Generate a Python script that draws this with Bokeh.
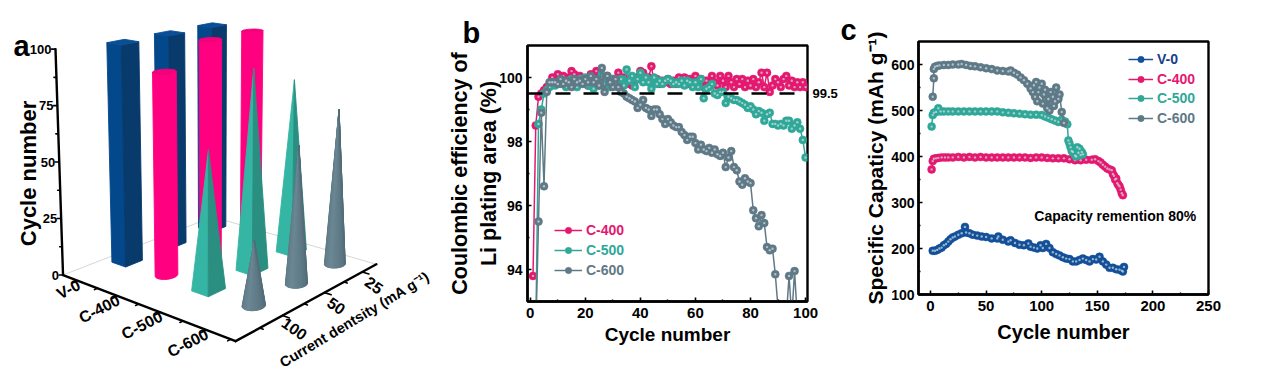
import numpy as np
from bokeh.core.properties import value
from bokeh.embed import file_html
from bokeh.layouts import row
from bokeh.models import FixedTicker, Legend, LegendItem, LinearAxis, Label, Range1d, Span, Title
from bokeh.plotting import figure
from bokeh.resources import INLINE

FONT = "Liberation Sans"
BLUE, PINK, TEAL, GREY = "#10488c", "#e5186f", "#2fa898", "#5f7986"

# ---------- panel a data ----------
samples_a = ["V-0", "C-400", "C-500", "C-600"]
densities_a = ["100", "50", "25"]
heights_v0 = [100, 100, 100]
heights_c400 = [90, 100, 100]
heights_c500 = [60, 90, 80]
heights_c600 = [27, 60, 70]

# ---------- panel b data ----------
ce_cycles = list(range(1, 101))
ce_c400 = [93.8, 98.5, 99.4, 99.5, 99.6, 99.7, 99.75, 100.0, 99.85, 100.1,
           99.95, 100.05, 99.9, 100.0, 100.2, 100.1, 99.9, 100.05, 99.85, 99.95,
           99.75, 100.1, 100.0, 100.2, 99.9, 100.0, 99.75, 100.05, 99.85, 99.95,
           99.8, 100.15, 99.9, 100.0, 99.8, 99.9, 99.75, 99.9, 100.0, 100.2,
           100.15, 99.9, 100.0, 100.35, 99.85, 99.95, 99.8, 99.9, 99.85, 99.95,
           99.8, 99.9, 99.8, 100.0, 99.85, 100.0, 99.8, 99.95, 99.8, 100.05,
           99.85, 99.95, 99.7, 99.9, 99.75, 100.05, 99.85, 99.75, 100.05, 99.9,
           99.7, 100.05, 99.85, 99.7, 99.95, 99.8, 99.95, 99.7, 99.9, 99.75,
           99.95, 99.7, 99.85, 100.15, 99.7, 100.15, 99.55, 99.75, 99.95, 99.85,
           99.7, 99.95, 100.05, 99.75, 99.9, 99.7, 99.85, 99.7, 99.85, 99.7]
ce_c500 = [92.0, 92.0, 98.55, 99.0, 99.5, 99.6, 99.7, 99.8, 99.75, 99.85,
           99.8, 99.9, 99.7, 99.85, 99.95, 99.9, 99.7, 99.95, 99.85, 100.0,
           99.75, 99.85, 99.65, 99.9, 99.75, 100.1, 99.8, 99.9, 99.7, 99.95,
           99.85, 99.7, 99.95, 99.75, 100.25, 99.9, 100.05, 99.7, 99.95, 100.15,
           99.85, 100.0, 99.85, 99.65, 100.0, 99.8, 99.9, 99.8, 99.9, 99.95,
           99.9, 99.8, 99.85, 99.8, 99.9, 99.75, 99.9, 99.85, 99.7, 99.85,
           99.7, 99.95, 99.35, 99.65, 99.7, 99.8, 99.5, 99.45, 99.55, 99.55,
           99.2, 99.4, 99.35, 99.3, 99.3, 99.25, 99.2, 99.15, 99.05, 99.1,
           99.0, 98.85, 98.95, 98.9, 98.65, 98.85, 98.9, 98.55, 98.55, 98.5,
           98.55, 98.5, 98.65, 98.65, 98.4, 98.5, 98.6, 98.4, 98.05, 97.5]
ce_c600 = [92.0, 92.0, 95.5, 98.9, 96.6, 99.55, 99.85, 99.85, 99.85, 99.8,
           99.95, 99.8, 99.9, 99.85, 99.7, 99.95, 99.85, 99.9, 99.8, 99.95,
           99.85, 100.05, 99.85, 99.95, 99.75, 100.3, 99.55, 100.05, 99.85, 99.7,
           99.95, 99.7, 99.55, 99.5, 99.4, 99.35, 99.3, 99.25, 99.05, 99.15,
           99.3, 99.05, 99.0, 98.8, 99.0, 99.0, 98.85, 98.7, 98.55, 98.7,
           98.6, 98.5, 98.45, 98.45, 98.3, 98.2, 98.05, 98.15, 98.15, 97.95,
           97.75, 97.9, 97.75, 97.7, 97.8, 97.65, 97.75, 97.6, 97.55, 97.65,
           97.2, 97.5, 97.7, 97.2, 97.1, 96.75, 96.65, 96.85, 96.75, 96.7,
           95.85, 95.6, 95.35, 95.7, 95.45, 94.7, 94.6, 94.65, 93.85, 92.8,
           92.6, 92.5, 92.5, 93.8, 92.5, 93.95, 92.5]
ce_target = 99.5
ce_xticks = [0, 20, 40, 60, 80, 100]
ce_yticks = [94, 96, 98, 100]

# ---------- panel c data ----------
v0_x = [2, 4, 6, 8, 10, 12, 14, 16, 18, 20, 22, 25, 28, 31, 32, 35, 38, 42, 46, 50, 55, 60, 61, 65, 70, 72, 76, 80, 84, 88,
        90, 93, 96, 99, 101, 104, 107, 110, 113, 116, 119, 122, 125, 128, 131, 134, 137, 140, 143, 146, 149, 152, 155, 158, 161, 164, 167, 170, 172, 173, 174]
v0_y = [195, 195, 197, 200, 202, 207, 210, 215, 220, 224, 226, 230, 233, 247, 235, 233, 230, 228, 226, 225, 222, 222, 226, 219, 215, 218, 212, 208, 207, 211,
        204, 202, 200, 207, 201, 210, 201, 192, 188, 185, 181, 178, 177, 172, 172, 175, 178, 175, 172, 177, 176, 182, 172, 165, 158, 158, 155, 154, 152, 150, 160]
c400_x = [1, 2, 3, 5, 7, 10, 13, 16, 20, 25, 30, 35, 40, 45, 50, 55, 60, 65, 70, 75, 80, 85, 90, 95, 100, 105, 110, 115, 120, 125, 130, 135, 140, 145, 148, 151, 153, 155, 157, 159, 161, 163, 164, 165, 166, 167, 168, 169, 170, 171, 172, 173]
c400_y = [372, 390, 395, 396, 397, 398, 398, 398, 398, 399, 398, 399, 398, 399, 398, 398, 398, 398, 398, 398, 398, 398, 397, 398, 398, 397, 396, 396, 396, 394, 392, 392, 393, 393, 394, 390, 387, 382, 378, 374, 372, 370, 362, 358, 350, 352, 342, 338, 335, 328, 320, 316]
c500_x = [1, 2, 3, 5, 7, 9, 12, 16, 20, 25, 30, 35, 40, 45, 50, 55, 60, 65, 70, 75, 80, 85, 90, 95, 100, 103, 106, 109, 112, 115, 118, 121, 123, 124, 125, 126, 127, 128, 130, 131, 132, 133, 134, 135, 136, 137]
c500_y = [465, 490, 495, 497, 505, 498, 498, 498, 498, 498, 498, 498, 498, 498, 498, 498, 498, 496, 495, 494, 493, 492, 491, 491, 490, 487, 484, 481, 478, 475, 480, 476, 470, 435, 428, 420, 412, 410, 402, 400, 420, 408, 417, 403, 410, 405]
c600_x = [2, 3, 3, 4, 6, 8, 12, 16, 20, 25, 28, 32, 36, 40, 45, 50, 55, 60, 65, 70, 72, 75, 78, 81, 84, 87, 90, 92, 93, 94, 95, 96, 97, 98, 100, 101, 102, 103, 105, 106, 107, 108, 110, 111, 112, 113, 115, 116, 118, 120]
c600_y = [530, 570, 590, 595, 597, 598, 599, 599, 600, 600, 601, 599, 597, 596, 594, 592, 590, 587, 586, 585, 587, 582, 578, 572, 566, 558, 548, 540, 555, 530, 562, 520, 540, 550, 558, 515, 535, 545, 505, 525, 500, 540, 530, 510, 520, 550, 525, 535, 497, 473]
cap_xticks = [0, 50, 100, 150, 200, 250]
cap_yticks = [100, 200, 300, 400, 500, 600]

# ---------- panel a: perspective helpers ----------
GRID = [((0, 0), (126.7, 260.7)), ((3, 0), (253.3, 305)), ((3, 2), (334.3, 263.3)), ((0, 2), (211.7, 226.7))]
A_, b_ = [], []
for (u, v), (X, Y) in GRID:
    A_.append([u, v, 1, 0, 0, 0, -u * X, -v * X]); b_.append(X)
    A_.append([0, 0, 0, u, v, 1, -u * Y, -v * Y]); b_.append(Y)
H = np.linalg.solve(np.array(A_, float), np.array(b_, float))


def project(u, v, z=0.0):
    w = H[6] * u + H[7] * v + 1
    x = (H[0] * u + H[1] * v + H[2]) / w
    y = (H[3] * u + H[4] * v + H[5]) / w
    s = (6.57 + 0.005 * (3 * (y - 10) - 752)) / 3
    return x + (x - 213.3) * 0.05 * z / 100, y - s * z


pa = figure(width=440, height=373, x_range=Range1d(0, 440), y_range=Range1d(373, 0),
            output_backend="svg", toolbar_location=None, min_border=0, frame_align=False,
            x_axis_type=None, y_axis_type=None, outline_line_color=None)
pa.grid.visible = False

xs, ys, cols = [], [], []


def poly(points, color):
    xs.append([q[0] for q in points])
    ys.append([q[1] for q in points])
    cols.append(color)


def column(u, v, z, half=0.18):
    L = (u - half, v - half); F = (u + half, v - half); R = (u + half, v + half); B = (u - half, v + half)
    poly([project(*L), project(*F), project(*F, z), project(*L, z)], "#04488c")
    poly([project(*F), project(*R), project(*R, z), project(*F, z)], "#083a6c")
    poly([project(*L, z), project(*F, z), project(*R, z), project(*B, z)], "#0a4f96")


def ring(u, v, z, r, t0=225, t1=405, n=24):
    ts = np.radians(np.linspace(t0, t1, n))
    return [project(u + r * np.cos(t), v + r * np.sin(t), z) for t in ts]


def cylinder(u, v, z, r=0.185):
    poly(ring(u, v, 0, r) + ring(u, v, z, r)[::-1], "#ff0080")
    poly(ring(u, v, z, r, 0, 360, 36), "#f5007a")


def pyramid(u, v, z, half=0.19):
    apex = project(u, v, z)
    L = (u - half, v - half); F = (u + half, v - half); R = (u + half, v + half)
    poly([project(*L), project(*F), apex], "#35b5a3")
    poly([project(*F), project(*R), apex], "#2a8e80")


def cone(u, v, z, r=0.18):
    apex = project(u, v, z)
    edge = ring(u, v, 0, r, 225, 405, 17)
    poly(edge + [apex], "#607b88")
    for i in range(16):
        f = abs(i - 5) / 11
        c = tuple(int(a + (b - a) * f) for a, b in zip((108, 136, 148), (80, 106, 118)))
        poly([edge[i], edge[i + 1], apex], "#%02x%02x%02x" % c)


draw = []
for i, hs in enumerate([heights_v0, heights_c400, heights_c500, heights_c600]):
    shape = [column, cylinder, pyramid, cone][i]
    for j, h in enumerate(hs):
        draw.append((project(i, j)[1], shape, i, j, h))
for _, shape, i, j, h in sorted(draw, key=lambda d: d[0]):
    shape(i, j, h)

ULO, UHI, VLO, VHI = -0.4, 3.6, -1.0, 2.4


def seg(p1, p2, color, width):
    pa.line([p1[0], p2[0]], [p1[1], p2[1]], line_color=color, line_width=width, line_cap="round")


seg(project(ULO, VLO), project(ULO, VHI), "#d6d6d6", 1)
seg(project(ULO, VHI), project(UHI, VHI), "#d6d6d6", 1)
pa.patches(xs, ys, fill_color=cols, line_color=cols, line_width=0.9)
seg(project(ULO, VLO), project(ULO, VLO, 100), "black", 2.4)
seg(project(ULO, VLO), project(UHI, VLO), "black", 2.4)
seg(project(UHI, VLO), project(UHI, VHI), "black", 2.4)
for z in np.arange(0, 101, 12.5):
    px, py = project(ULO, VLO, z)
    seg((px, py), (px - (4 if z % 25 == 0 else 2.5), py), "black", 1.6)
for u in np.arange(0, 3.6, 0.5):
    l = 0.11 if float(u).is_integer() else 0.06
    seg(project(u, VLO), project(u, VLO - l), "black", 1.6)
for v in np.arange(-0.5, 2.4, 0.5):
    l = 0.14 if float(v).is_integer() else 0.07
    seg(project(UHI, v), project(UHI + l, v), "black", 1.6)


def txt(x, y, s, size, angle=0, align="center", base="middle", style="bold", color="black"):
    pa.text([x], [y], text=[s], text_font=value(FONT), text_font_size=size, text_font_style=style,
            text_color=color, text_align=align, text_baseline=base, angle=angle, angle_units="deg")


txt(13, 45, "a", "29px", align="left", base="alphabetic")
for z in [0, 25, 50, 75, 100]:
    px, py = project(ULO, VLO, z)
    txt(px - 4, py, str(z), "13px", align="right")
for i, s in enumerate(samples_a):
    px, py = project(i, VLO)
    txt(px + 1, py + 3, s, "16px", angle=27, align="right")
for j, s in enumerate(densities_a):
    px, py = project(UHI, j)
    txt(px + 12, py + 13, s, "16px", angle=-35)
txt(28, 173, "Cycle number", "22px", angle=90)
txt(354, 319, "Current dentsity (mA g\u207b\u00b9)", "14.5px", angle=31)


# ---------- helpers for b / c ----------
def style_axes(p, xticks, xminor, yticks, yminor):
    p.grid.visible = False
    p.outline_line_color = "black"
    p.outline_line_width = 2.4
    for ax, tk, mn, fs in [(p.xaxis[0], xticks, xminor, "15px"), (p.yaxis[0], yticks, yminor, "14px")]:
        ax.ticker = FixedTicker(ticks=tk, minor_ticks=mn)
        ax.axis_line_width = 2.4
        ax.major_tick_in, ax.major_tick_out = 4, 0
        ax.minor_tick_in, ax.minor_tick_out = 2, 0
        ax.major_tick_line_width = 1.6
        ax.minor_tick_line_width = 1.4
        ax.major_label_text_font = FONT
        ax.major_label_text_font_style = "bold"
        ax.major_label_text_font_size = fs
        ax.major_label_text_color = "black"
        ax.axis_label_text_font = FONT
        ax.axis_label_text_font_style = "bold"
        ax.axis_label_text_color = "black"


def series(p, x, y, color, size=8):
    ln = p.line(x, y, line_color=color, line_width=1.5)
    c = p.scatter(x, y, marker="circle", size=size, fill_color=color, line_color=color, line_width=0.5)
    p.scatter(x, y, marker="circle", size=size * 0.3, fill_color="#cfe0e6", fill_alpha=0.7, line_color=None)
    return [ln, c]


def legend(p, label, rends, color, x, y, glyph):
    p.add_layout(Legend(items=[LegendItem(label=label, renderers=rends)], location=(x, y),
                        background_fill_alpha=0, border_line_alpha=0, margin=0, padding=0,
                        glyph_width=glyph, glyph_height=16, label_height=16, label_standoff=4,
                        label_text_font=FONT, label_text_font_style="bold",
                        label_text_font_size="14px", label_text_color=color))


def letter(p, s, offset, standoff):
    p.add_layout(Title(text=s, align="left", offset=offset, standoff=standoff, text_font=FONT,
                       text_font_style="bold", text_font_size="29px", text_color="black"), "above")


# ---------- panel b ----------
pb = figure(frame_width=280, frame_height=256, min_border_left=87, min_border_right=30,
            min_border_top=45, min_border_bottom=72, x_range=Range1d(-1, 100.7), y_range=Range1d(93, 101),
            output_backend="svg", toolbar_location=None, frame_align=False,
            x_axis_label="Cycle number", y_axis_label="Coulombic efficiency of\nLi plating area (%)")
style_axes(pb, ce_xticks, [10, 30, 50, 70, 90], ce_yticks, [93, 95, 97, 99])
pb.xaxis.axis_label_text_font_size = "19px"
pb.yaxis.axis_label_text_font_size = "21.5px"
pb.xaxis.major_label_standoff = 6
pb.xaxis.axis_label_standoff = 3
pb.yaxis.major_label_standoff = 5
pb.yaxis.axis_label_standoff = -5
r4 = series(pb, ce_cycles, ce_c400, PINK)
r5 = series(pb, ce_cycles, ce_c500, TEAL)
r6 = series(pb, ce_cycles[:len(ce_c600)], ce_c600, GREY)
pb.add_layout(Span(location=ce_target, dimension="width", line_color="black", line_width=2.6,
                   line_dash="15 13"))
legend(pb, "C-400", r4, PINK, 27, 63, 28)
legend(pb, "C-500", r5, TEAL, 27, 43, 28)
legend(pb, "C-600", r6, GREY, 27, 23, 28)
target_axis = LinearAxis(ticker=FixedTicker(ticks=[ce_target]), axis_line_color=None, major_tick_line_color=None,
                         minor_tick_line_color=None, major_tick_in=0, major_tick_out=0, minor_tick_in=0,
                         minor_tick_out=0, major_label_standoff=5, major_label_text_font=FONT,
                         major_label_text_font_style="bold", major_label_text_font_size="13px",
                         major_label_text_color="black")
pb.add_layout(target_axis, "right")
letter(pb, "b", -65, -6)

# ---------- panel c ----------
pc = figure(frame_width=290, frame_height=253, min_border_left=78, min_border_right=61,
            min_border_top=41, min_border_bottom=79, x_range=Range1d(-10.8, 250), y_range=Range1d(100, 650),
            output_backend="svg", toolbar_location=None, frame_align=False,
            x_axis_label="Cycle number", y_axis_label="Specific Capaticy (mAh g\u207b\u00b9)")
style_axes(pc, cap_xticks, [25, 75, 125, 175, 225], cap_yticks, [150, 250, 350, 450, 550])
pc.xaxis.axis_label_text_font_size = "20px"
pc.yaxis.axis_label_text_font_size = "21px"
pc.xaxis.major_label_standoff = 6
pc.xaxis.axis_label_standoff = 7
pc.yaxis.major_label_standoff = 4
pc.yaxis.axis_label_standoff = 1
rv = series(pc, v0_x, v0_y, "#14509a")
r4c = series(pc, c400_x, c400_y, PINK)
r5c = series(pc, c500_x, c500_y, TEAL)
r6c = series(pc, c600_x, c600_y, GREY)
legend(pc, "V-0", rv, "#14408a", 210, 227, 25)
legend(pc, "C-400", r4c, PINK, 210, 207, 25)
legend(pc, "C-500", r5c, TEAL, 210, 188, 25)
legend(pc, "C-600", r6c, GREY, 210, 168, 25)
pc.add_layout(Label(x=93.4, y=270, text="Capacity remention 80%", text_font=FONT, text_font_style="bold",
                    text_font_size="14px", text_color="black", text_baseline="middle"))
letter(pc, "c", -78, -9)

layout = row(pa, pb, pc, spacing=0)
open("out.html", "w").write(file_html(layout, INLINE))
